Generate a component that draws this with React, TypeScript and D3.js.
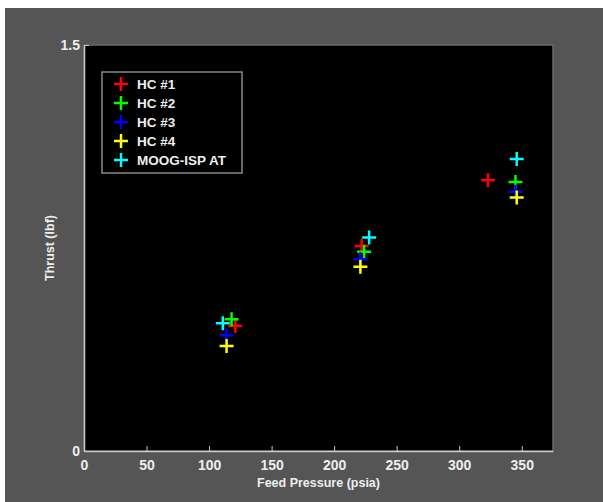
import React, { useEffect, useRef } from 'react'
import * as d3 from 'd3'

// series names and colours
const seriesNames = ['HC #1', 'HC #2', 'HC #3', 'HC #4', 'MOOG-ISP AT']
const seriesColors = ['#ff0000', '#00ff00', '#0000ff', '#ffff00', '#00ffff']

// feed pressure (psia) per series, three runs each
const hc1Pressure = [121, 222, 323]
const hc2Pressure = [118, 224, 345]
const hc3Pressure = [114, 221, 345]
const hc4Pressure = [114, 221, 346]
const moogPressure = [111, 228, 346]

// thrust (lbf)
const hc1Thrust = [0.462, 0.757, 1.0]
const hc2Thrust = [0.487, 0.736, 0.994]
const hc3Thrust = [0.428, 0.708, 0.958]
const hc4Thrust = [0.388, 0.681, 0.937]
const moogThrust = [0.472, 0.789, 1.079]

const xTicks = [0, 50, 100, 150, 200, 250, 300, 350]
const yTicks = [0, 1.5]

const App = () => {
  const svgRef = useRef<SVGSVGElement>(null)

  useEffect(() => {
    const width = 603
    const height = 502
    const margin = { left: 84, top: 45, right: 50, bottom: 51 }

    const svg = d3.select(svgRef.current)
    svg.selectAll('*').remove()

    svg.append('rect').attr('width', width).attr('height', height).attr('fill', '#ffffff')
    svg.append('rect').attr('x', 5).attr('y', 8).attr('width', width - 5).attr('height', height - 8).attr('fill', '#555555')

    const x = d3.scaleLinear().domain([0, 375]).range([margin.left, width - margin.right])
    const y = d3.scaleLinear().domain([0, 1.5]).range([height - margin.bottom, margin.top])

    // plot area
    svg
      .append('rect')
      .attr('x', x(0))
      .attr('y', y(1.5))
      .attr('width', x(375) - x(0))
      .attr('height', y(0) - y(1.5))
      .attr('fill', '#000000')
      .attr('stroke', '#6a6a6a')
      .attr('stroke-width', 1.5)

    const font = 'Arial, "Liberation Sans", sans-serif'

    const xAxis = svg
      .append('g')
      .attr('transform', `translate(0, ${y(0)})`)
      .call(d3.axisBottom(x).tickValues(xTicks).tickSizeInner(-5).tickSizeOuter(0).tickPadding(9))
    const yAxis = svg
      .append('g')
      .attr('transform', `translate(${x(0)}, 0)`)
      .call(d3.axisLeft(y).tickValues(yTicks).tickFormat(d3.format('')).tickSizeInner(-5).tickSizeOuter(0).tickPadding(4))

    ;[xAxis, yAxis].forEach((a) => {
      a.selectAll('path').attr('stroke', '#c8c8c8').attr('stroke-width', 1.5)
      a.selectAll('line').attr('stroke', '#c8c8c8').attr('stroke-width', 1)
      a.selectAll('text')
        .attr('fill', '#eeeeee')
        .style('font-family', font)
        .style('font-weight', 'bold')
        .style('font-size', '14px')
    })

    svg
      .append('text')
      .attr('x', (x(0) + x(375)) / 2)
      .attr('y', 487)
      .attr('text-anchor', 'middle')
      .attr('fill', '#eeeeee')
      .style('font-family', font)
      .style('font-weight', 'bold')
      .style('font-size', '12.5px')
      .text('Feed Pressure (psia)')

    svg
      .append('text')
      .attr('transform', `translate(54, ${(y(0) + y(1.5)) / 2}) rotate(-90)`)
      .attr('text-anchor', 'middle')
      .attr('fill', '#eeeeee')
      .style('font-family', font)
      .style('font-weight', 'bold')
      .style('font-size', '12.5px')
      .text('Thrust (lbf)')

    const pressures = [hc1Pressure, hc2Pressure, hc3Pressure, hc4Pressure, moogPressure]
    const thrusts = [hc1Thrust, hc2Thrust, hc3Thrust, hc4Thrust, moogThrust]

    const plus = (g: any, cx: number, cy: number, color: string) => {
      g.append('path')
        .attr('d', `M${cx - 7},${cy}H${cx + 7}M${cx},${cy - 7}V${cy + 7}`)
        .attr('stroke', color)
        .attr('stroke-width', 2.5)
        .attr('fill', 'none')
    }

    const marks = svg.append('g')
    seriesNames.forEach((name, i) => {
      pressures[i].forEach((p, j) => {
        plus(marks, x(p), y(thrusts[i][j]), seriesColors[i])
      })
    })

    // legend
    const legend = svg.append('g').attr('transform', 'translate(102, 72)')
    legend
      .append('rect')
      .attr('width', 140)
      .attr('height', 101)
      .attr('fill', '#000000')
      .attr('stroke', '#8a8a8a')
      .attr('stroke-width', 1.5)
    seriesNames.forEach((name, i) => {
      const row = legend.append('g').attr('transform', `translate(0, ${12 + i * 19})`)
      plus(row, 19, 0, seriesColors[i])
      row
        .append('text')
        .attr('x', 35)
        .attr('y', 0)
        .attr('dy', '0.36em')
        .attr('fill', '#eeeeee')
        .style('font-family', font)
        .style('font-weight', 'bold')
        .style('font-size', '13.5px')
        .text(name)
    })
  }, [])

  return (
    <div style={{ position: 'absolute', left: 0, top: 0 }}>
      <svg ref={svgRef} width={603} height={502} style={{ display: 'block' }}></svg>
    </div>
  )
}

export default App
